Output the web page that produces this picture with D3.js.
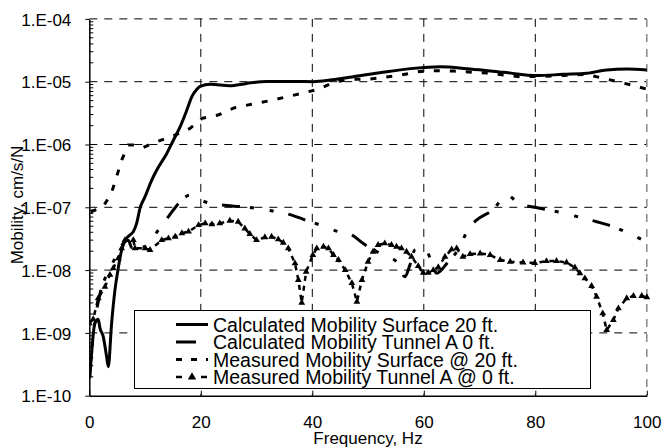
<!DOCTYPE html>
<html>
<head>
<meta charset="utf-8">
<script src="https://cdn.jsdelivr.net/npm/d3@7"></script>
<style>
  html, body { margin: 0; padding: 0; background: #fff; }
  svg { display: block; font-family: "Liberation Sans", Arial, sans-serif; }
</style>
</head>
<body>
<svg id="chart" width="663" height="448"></svg>
<script>
// Mobility spectra, cm/s/N, against frequency in Hz
const seriesNames = [
  "Calculated Mobility Surface 20 ft.",
  "Calculated Mobility Tunnel A 0 ft.",
  "Measured Mobility Surface @ 20 ft.",
  "Measured Mobility Tunnel A @ 0 ft."
];

const freqCalcSurface = [0.1, 1.0, 1.6, 1.9, 2.5, 3.1, 3.4, 4.0, 4.6, 5.2, 5.8, 6.7, 7.3, 7.9, 8.5, 9.1, 10, 11.2, 12.1, 13.9, 15.1, 16.3, 17.5, 18.4, 19.3, 19.9, 21.7, 25.2, 28.2, 31.8, 37.2, 40.2, 43.2, 46.2, 52.1, 58.1, 62.9, 68.3, 74.3, 80.3, 85, 89.2, 92.8, 96.4, 100];
const calcSurface = [1.9e-10, 1.42e-9, 1.65e-9, 1.2e-9, 8.7e-10, 4.2e-10, 2.9e-10, 1.42e-9, 4.8e-9, 1.08e-8, 2.09e-8, 3.24e-8, 3.62e-8, 4.1e-8, 5.6e-8, 9.7e-8, 1.48e-7, 2.72e-7, 3.93e-7, 7.2e-7, 1.18e-6, 1.92e-6, 3.54e-6, 5.8e-6, 7.6e-6, 8.45e-6, 9.1e-6, 8.6e-6, 9.4e-6, 1.01e-5, 1.01e-5, 1.0e-5, 1.06e-5, 1.16e-5, 1.39e-5, 1.63e-5, 1.73e-5, 1.59e-5, 1.41e-5, 1.25e-5, 1.31e-5, 1.36e-5, 1.54e-5, 1.59e-5, 1.54e-5];

const freqCalcTunnel = [0, 1, 2, 3, 4, 5, 6, 7, 7.6, 10, 12.4, 14.2, 16.3, 18.1, 19.9, 21.3, 23.7, 27.3, 30, 31.8, 35.7, 38.4, 41.4, 44.7, 47.1, 49.1, 52.1, 55.1, 56.6, 57.5, 58.4, 60.2, 61.2, 62.3, 64.2, 66.5, 68, 69.5, 72.5, 74.9, 77, 79.9, 82.3, 85.3, 88.6, 91, 94, 96.7, 100];
const calcTunnel = [2.2e-10, 1.5e-9, 4.5e-9, 8e-9, 1.2e-8, 1.8e-8, 2.6e-8, 3.0e-8, 2.3e-8, 2.36e-8, 4.36e-8, 7.1e-8, 1.23e-7, 1.57e-7, 1.31e-7, 1.18e-7, 1.09e-7, 1.02e-7, 9.65e-8, 9.06e-8, 7.8e-8, 6.44e-8, 5.22e-8, 4.09e-8, 3.62e-8, 2.67e-8, 1.85e-8, 1.36e-8, 7.85e-9, 1.2e-8, 2.09e-8, 2.22e-8, 1.5e-8, 8.9e-9, 1.3e-8, 2.36e-8, 4.63e-8, 6.28e-8, 9.3e-8, 1.57e-7, 1.16e-7, 1.0e-7, 9.06e-8, 8.0e-8, 6.68e-8, 5.9e-8, 4.91e-8, 3.86e-8, 2.8e-8];

const freqMeasSurface = [0.25, 2.5, 4.0, 4.9, 5.8, 7.0, 8.2, 9.7, 12.1, 15.1, 18.1, 20.2, 23.1, 26.1, 29.1, 32.1, 35.1, 38.1, 41.1, 43.8, 46.8, 49.8, 52.7, 56, 59, 61.7, 65.3, 71.3, 77.3, 83.2, 89.2, 92.2, 95.2, 98.5, 100];
const measSurface = [8.5e-8, 1.02e-7, 1.72e-7, 3.07e-7, 5.66e-7, 9.8e-7, 9.8e-7, 9.0e-7, 1.11e-6, 1.37e-6, 1.81e-6, 2.61e-6, 2.95e-6, 3.86e-6, 4.37e-6, 4.93e-6, 5.65e-6, 6.54e-6, 7.57e-6, 9.8e-6, 1.09e-5, 1.09e-5, 1.17e-5, 1.28e-5, 1.44e-5, 1.5e-5, 1.48e-5, 1.37e-5, 1.2e-5, 1.23e-5, 1.31e-5, 1.13e-5, 9.8e-6, 8.3e-6, 7.6e-6];

const freqMeasTunnel = [0, 0.7, 1.6, 2.8, 3.7, 4.3, 5.2, 5.8, 6.4, 7.9, 8.2, 10, 10.9, 13, 14.2, 15.4, 16.6, 17.8, 19.6, 20.8, 22, 23.4, 25.2, 26.7, 27.9, 28.8, 30, 31.5, 32.7, 33.9, 34.8, 35.7, 36.9, 37.5, 38.1, 38.9, 40.1, 40.8, 42, 42.9, 43.8, 44.7, 45.9, 47.1, 48, 48.9, 50, 50.9, 51.8, 53, 54.2, 55.1, 56, 56.9, 57.8, 59, 59.9, 60.8, 61.7, 62.6, 63.8, 65, 65.9, 67, 68.3, 70.1, 71.9, 73.7, 75.5, 77.8, 79.9, 82, 83.8, 85.6, 87.1, 88, 88.9, 90.1, 91, 92.1, 92.8, 94, 94.9, 96.4, 97.6, 99.1, 100];
const measTunnel = [1.42e-9, 1.65e-9, 3.56e-9, 5.4e-9, 8.4e-9, 1.07e-8, 1.54e-8, 2.22e-8, 3.0e-8, 3.0e-8, 2.22e-8, 2.22e-8, 2.09e-8, 3.0e-8, 3.2e-8, 3.4e-8, 3.86e-8, 4.1e-8, 5.2e-8, 5.55e-8, 5.35e-8, 5.55e-8, 6.1e-8, 5.9e-8, 4.6e-8, 3.76e-8, 3.0e-8, 3.33e-8, 3.4e-8, 3.09e-8, 2.73e-8, 2.22e-8, 1.28e-8, 6.95e-9, 3.03e-9, 9.4e-9, 1.74e-8, 2.22e-8, 2.36e-8, 2.22e-8, 1.74e-8, 1.45e-8, 1.0e-8, 6.2e-9, 3.14e-9, 6.95e-9, 1.36e-8, 1.96e-8, 2.51e-8, 2.67e-8, 2.51e-8, 2.36e-8, 2.22e-8, 1.96e-8, 1.63e-8, 1.16e-8, 9.1e-9, 9.1e-9, 1.0e-8, 1.11e-8, 1.63e-8, 2.14e-8, 2.22e-8, 1.63e-8, 1.8e-8, 1.84e-8, 1.74e-8, 1.45e-8, 1.36e-8, 1.32e-8, 1.3e-8, 1.39e-8, 1.4e-8, 1.32e-8, 1.1e-8, 8.9e-9, 7.4e-9, 5.6e-9, 3.77e-9, 2.05e-9, 1.11e-9, 1.6e-9, 2.46e-9, 3.56e-9, 3.87e-9, 3.87e-9, 3.7e-9];

const xTickValues = [0, 20, 40, 60, 80, 100];
const yTickValues = [1e-10, 1e-9, 1e-8, 1e-7, 1e-6, 1e-5, 1e-4];
const xTitle = "Frequency, Hz";
const yTitle = "Mobility, cm/s/N";

const svg = d3.select("#chart");
const plotLeft = 89.3, plotRight = 646.8, plotTop = 18.9, plotBottom = 395.7;

const x = d3.scaleLinear().domain([0, 100]).range([plotLeft, plotRight]);
const y = d3.scaleLog().domain([1e-10, 1e-4]).range([plotBottom, plotTop]);

const fmtExp = v => {
  const e = Math.round(Math.log10(v));
  return "1.E" + (e < 0 ? "-" : "+") + String(Math.abs(e)).padStart(2, "0");
};

svg.append("defs").append("clipPath").attr("id", "plotClip")
  .append("rect").attr("x", plotLeft).attr("y", plotTop - 2)
  .attr("width", plotRight - plotLeft + 4).attr("height", plotBottom - plotTop + 2);

// grid
const grid = svg.append("g");
grid.selectAll("line.h").data(yTickValues.slice(1)).join("line")
  .attr("x1", plotLeft).attr("x2", plotRight)
  .attr("y1", d => y(d)).attr("y2", d => y(d))
  .attr("stroke", "#000").attr("stroke-width", 1).attr("stroke-dasharray", "8,7");
grid.selectAll("line.v").data(xTickValues.slice(1)).join("line")
  .attr("y1", plotTop).attr("y2", plotBottom)
  .attr("x1", d => x(d)).attr("x2", d => x(d))
  .attr("stroke", d => d === 100 ? "#888" : "#000")
  .attr("stroke-width", d => d === 100 ? 1.5 : 1).attr("stroke-dasharray", "8,7");

// axes
const yAxis = d3.axisLeft(y).tickValues(yTickValues).tickFormat(fmtExp).tickSizeInner(4).tickSizeOuter(0).tickPadding(14);
const gy = svg.append("g").attr("transform", `translate(${plotLeft},0)`).call(yAxis);
gy.select(".domain").attr("stroke", "#000").attr("stroke-width", 1.5);
gy.selectAll(".tick text").attr("font-size", 17).attr("font-family", "Liberation Sans, Arial, sans-serif").attr("fill", "#000").attr("dy", "0.36em");

// minor ticks on the log axis
const minor = [];
for (let e = -10; e < -4; e++) for (let m = 2; m <= 9; m++) minor.push(m * Math.pow(10, e));
svg.append("g").selectAll("line").data(minor).join("line")
  .attr("x1", plotLeft).attr("x2", plotLeft + 4)
  .attr("y1", d => y(d)).attr("y2", d => y(d))
  .attr("stroke", "#000").attr("stroke-width", 1);

const xAxis = d3.axisBottom(x).tickValues(xTickValues).tickFormat(d3.format("d")).tickSizeInner(-5).tickSizeOuter(0).tickPadding(20);
const gx = svg.append("g").attr("transform", `translate(0,${plotBottom})`).call(xAxis);
gx.select(".domain").attr("stroke", "#000").attr("stroke-width", 1.5);
gx.selectAll(".tick text").attr("font-size", 17).attr("font-family", "Liberation Sans, Arial, sans-serif").attr("fill", "#000");

svg.append("text").attr("x", 368).attr("y", 444).attr("text-anchor", "middle")
  .attr("font-size", 17).text(xTitle);
svg.append("text").attr("transform", "translate(23,205) rotate(-90)").attr("text-anchor", "middle")
  .attr("font-size", 17).text(yTitle);

// series
const plot = svg.append("g").attr("clip-path", "url(#plotClip)");
const pairs = (fs, vs) => fs.map((f, i) => [f, vs[i]]);
const smooth = d3.line().x(d => x(d[0])).y(d => y(d[1])).curve(d3.curveMonotoneX);
const straight = d3.line().x(d => x(d[0])).y(d => y(d[1]));

const styles = [
  { dash: null, width: 3 },
  { dash: "18,10,4,16,4,15", width: 3 },
  { dash: "6,10", width: 3 },
  { dash: "5,5", width: 2.5 }
];

plot.append("path").attr("d", smooth(pairs(freqCalcTunnel, calcTunnel)))
  .attr("fill", "none").attr("stroke", "#000").attr("stroke-width", styles[1].width)
  .attr("stroke-dasharray", styles[1].dash);
plot.append("path").attr("d", straight(pairs(freqMeasSurface, measSurface)))
  .attr("fill", "none").attr("stroke", "#000").attr("stroke-width", styles[2].width)
  .attr("stroke-dasharray", styles[2].dash);
plot.append("path").attr("d", straight(pairs(freqMeasTunnel, measTunnel)))
  .attr("fill", "none").attr("stroke", "#000").attr("stroke-width", styles[3].width)
  .attr("stroke-dasharray", styles[3].dash);
plot.append("path").attr("d", smooth(pairs(freqCalcSurface, calcSurface)))
  .attr("fill", "none").attr("stroke", "#000").attr("stroke-width", styles[0].width);

const tri = d3.symbol().type(d3.symbolTriangle).size(20);
plot.append("g").selectAll("path").data(pairs(freqMeasTunnel, measTunnel)).join("path")
  .attr("d", tri).attr("transform", d => `translate(${x(d[0])},${y(d[1])})`)
  .attr("fill", "#000");

// legend
const lg = svg.append("g");
lg.append("rect").attr("x", 134.5).attr("y", 310.5).attr("width", 456).attr("height", 78)
  .attr("fill", "#fff").attr("stroke", "#000").attr("stroke-width", 1);
const rowY = [324.5, 342, 359.5, 377];
seriesNames.forEach((name, i) => {
  const ly = rowY[i];
  const ln = lg.append("line").attr("x1", 176).attr("x2", 208).attr("y1", ly).attr("y2", ly)
    .attr("stroke", "#000").attr("stroke-width", styles[i].width);
  if (i === 1) ln.attr("stroke-dasharray", "20,40");
  if (i === 2) ln.attr("stroke-dasharray", "6,9");
  if (i === 3) {
    ln.attr("stroke-dasharray", "6,19");
    lg.append("path").attr("d", d3.symbol().type(d3.symbolTriangle).size(30)())
      .attr("transform", `translate(192,${ly})`).attr("fill", "#000");
  }
  lg.append("text").attr("x", 213).attr("y", ly + 7.3).attr("font-size", 19.5).attr("fill", "#000").text(name);
});
</script>
</body>
</html>
